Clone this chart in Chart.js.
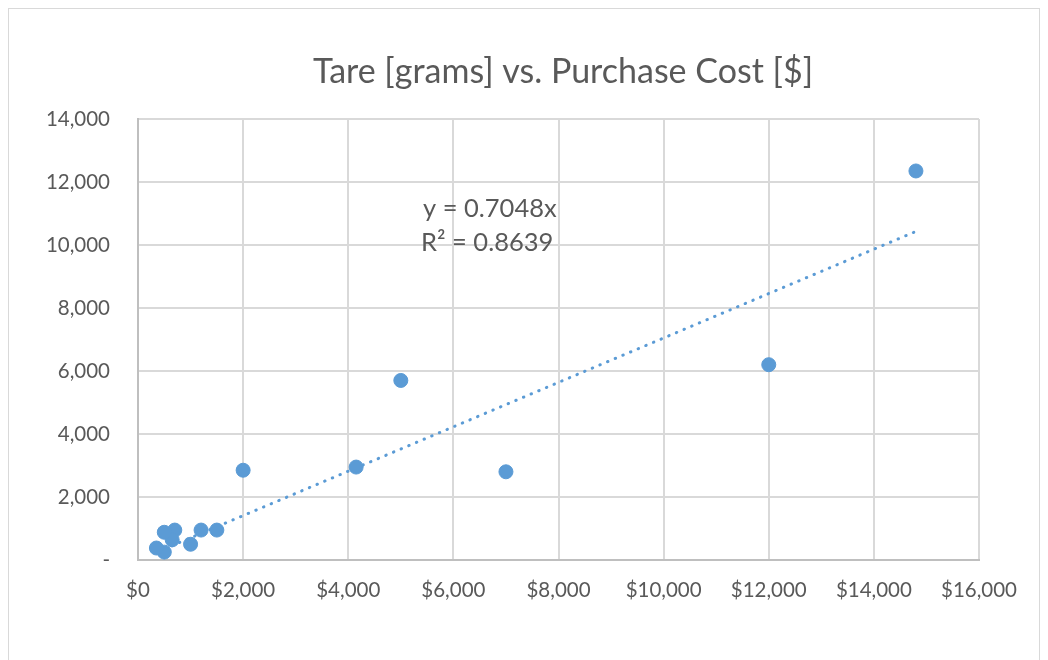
<!DOCTYPE html>
<html>
<head>
<meta charset="utf-8">
<script src="https://cdn.jsdelivr.net/npm/chart.js@4/dist/chart.umd.min.js"></script>
<style>
  html, body { margin: 0; padding: 0; background: #fff; }
  #wrap { width: 1048px; height: 660px; }
</style>
</head>
<body>
<div id="wrap"><canvas id="tareChart" width="1048" height="660"></canvas></div>
<script>
// purchase cost [$] and tare [grams]
const purchaseCost = [14800, 12000, 7000, 5000, 4150, 2000, 1500, 1200, 1000, 700, 650, 500, 500, 350];
const tareGrams = [12350, 6200, 2800, 5700, 2950, 2850, 950, 950, 500, 950, 640, 880, 250, 380];
const slope = 0.7048;
const rSquared = 0.8639;
const yTicks = [0, 2000, 4000, 6000, 8000, 10000, 12000, 14000];
const xTicks = [0, 2000, 4000, 6000, 8000, 10000, 12000, 14000, 16000];

const blue = '#5B9BD5';
const grey = '#595959';
const fontFamily = 'Lato, "Open Sans", sans-serif';

const points = purchaseCost.map((c, i) => ({ x: c, y: tareGrams[i] }));
const xMin = Math.min(...purchaseCost);
const xMax = Math.max(...purchaseCost);
const trendPoints = [{ x: xMin, y: slope * xMin }, { x: xMax, y: slope * xMax }];

const fmt = v => v.toLocaleString('en-US');

// outer frame, title and trendline label
const decorPlugin = {
    id: 'decor',
    beforeDraw(chart) {
        const ctx = chart.ctx;
        ctx.save();
        ctx.fillStyle = '#fff';
        ctx.fillRect(0, 0, chart.width, chart.height);
        ctx.strokeStyle = '#d9d9d9';
        ctx.lineWidth = 1;
        ctx.strokeRect(8.5, 8.5, 1031, 700);
        ctx.restore();
    },
    afterDraw(chart) {
        const ctx = chart.ctx;
        ctx.save();
        ctx.fillStyle = grey;
        ctx.textAlign = 'center';
        ctx.textBaseline = 'middle';
        ctx.font = '34px ' + fontFamily;
        ctx.fillText('Tare [grams] vs. Purchase Cost [$]', 563, 72);
        ctx.textAlign = 'left';
        ctx.font = '25.5px ' + fontFamily;
        ctx.fillText('y = ' + slope + 'x', 423, 209);
        ctx.fillText('R² = ' + rSquared, 421, 243);
        ctx.restore();
    }
};

new Chart(document.getElementById('tareChart'), {
    type: 'scatter',
    data: {
        datasets: [{
            label: 'Tare',
            data: points,
            backgroundColor: blue,
            borderColor: blue,
            pointRadius: 7,
            pointHoverRadius: 7,
            order: 1
        }, {
            label: 'Trend',
            type: 'line',
            data: trendPoints,
            borderColor: blue,
            borderWidth: 3,
            borderDash: [0.5, 7.8],
            borderCapStyle: 'round',
            pointRadius: 0,
            fill: false,
            order: 2
        }]
    },
    plugins: [decorPlugin],
    options: {
        responsive: false,
        animation: false,
        layout: { padding: { left: 10, right: 69, top: 119, bottom: 40 } },
        plugins: {
            legend: { display: false },
            title: { display: false },
            tooltip: { enabled: false }
        },
        scales: {
            x: {
                type: 'linear',
                min: 0,
                max: 16000,
                afterBuildTicks: axis => { axis.ticks = xTicks.map(v => ({ value: v })); },
                afterFit: axis => { axis.height = 60; },
                grid: { color: '#d9d9d9', lineWidth: 2, drawTicks: false },
                border: { color: '#bfbfbf', width: 2 },
                ticks: {
                    color: grey,
                    font: { family: fontFamily, size: 20.5 },
                    padding: 18,
                    maxRotation: 0,
                    callback: v => '$' + fmt(v)
                }
            },
            y: {
                type: 'linear',
                min: 0,
                max: 14000,
                afterBuildTicks: axis => { axis.ticks = yTicks.map(v => ({ value: v })); },
                afterFit: axis => { axis.width = 128; },
                grid: { color: '#d9d9d9', lineWidth: 2, drawTicks: false },
                border: { color: '#bfbfbf', width: 2 },
                ticks: {
                    color: grey,
                    font: { family: fontFamily, size: 20.5 },
                    padding: 28,
                    callback: v => v === 0 ? '-' : fmt(v)
                }
            }
        }
    }
});
</script>
</body>
</html>
